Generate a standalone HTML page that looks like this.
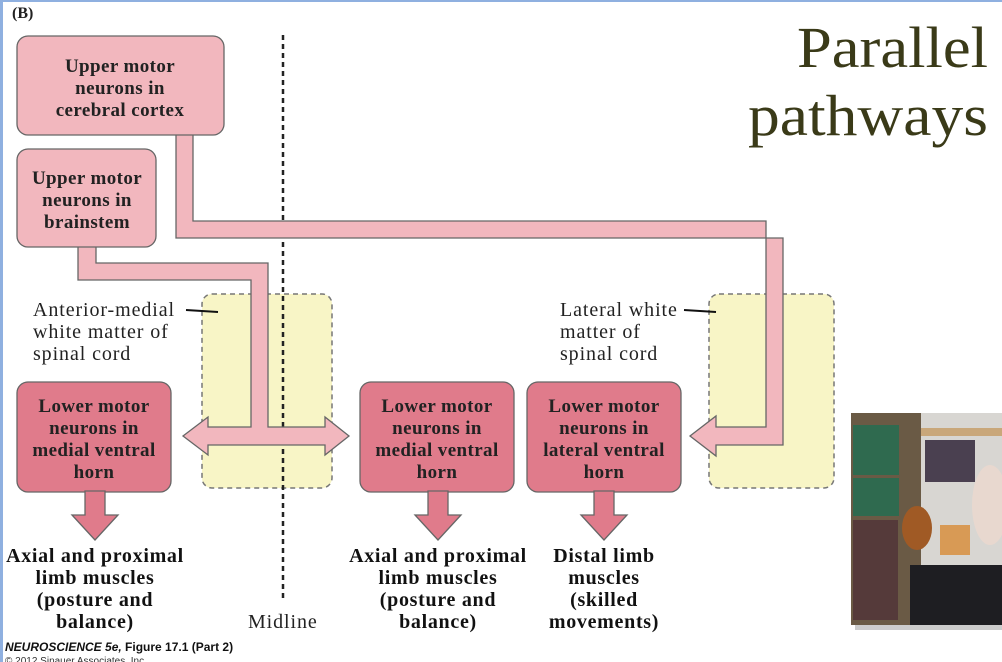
<!DOCTYPE html>
<html><head><meta charset="utf-8"><style>
html,body{margin:0;padding:0;background:#fff;}
body{width:1002px;height:662px;overflow:hidden;position:relative;}
svg{position:absolute;left:0;top:0;}
.t{font-family:"Liberation Serif",serif;font-weight:bold;font-size:19px;letter-spacing:0.4px;fill:#222;text-anchor:middle;}
.b{font-family:"Liberation Serif",serif;font-weight:bold;font-size:20px;letter-spacing:0.7px;fill:#111;text-anchor:middle;}
.n{font-family:"Liberation Serif",serif;font-size:20px;letter-spacing:0.9px;fill:#222;}
</style></head><body>
<svg width="1002" height="662" viewBox="0 0 1002 662">
<rect x="0" y="0" width="1002" height="662" fill="#fff"/>
<rect x="0" y="0" width="1002" height="2" fill="#8fb0e0"/>
<rect x="0" y="0" width="3" height="662" fill="#8fb0e0"/>
<text x="12" y="18" font-family="Liberation Serif,serif" font-weight="bold" font-size="16" fill="#222">(B)</text>
<text x="797" y="67" font-family="Liberation Serif,serif" font-size="58" fill="#3a3a18" textLength="191" lengthAdjust="spacingAndGlyphs">Parallel</text>
<text x="748" y="135" font-family="Liberation Serif,serif" font-size="58" fill="#3a3a18" textLength="240" lengthAdjust="spacingAndGlyphs">pathways</text>
<!-- yellow -->
<rect x="202" y="294" width="130" height="194" rx="10" fill="#f8f5c6" stroke="#777" stroke-dasharray="5,4" stroke-width="1.5"/>
<rect x="709" y="294" width="125" height="194" rx="10" fill="#f8f5c6" stroke="#777" stroke-dasharray="5,4" stroke-width="1.5"/>
<!-- midline -->
<line x1="283" y1="35" x2="283" y2="602" stroke="#222" stroke-width="2.5" stroke-dasharray="5,4"/>
<!-- cortex path -->
<path d="M176,134 L193,134 L193,221 L766,221 L766,427 L716,427 L716,416 L690,436 L716,456 L716,445 L783,445 L783,238 L176,238 Z" fill="#f2b7be" stroke="#666" stroke-width="1.3"/>
<!-- brainstem path -->
<path d="M78,246 L96,246 L96,263 L268,263 L268,427 L325,427 L325,417 L349,436 L325,455 L325,445 L208,445 L208,455 L183,436 L208,417 L208,427 L251,427 L251,280 L78,280 Z" fill="#f2b7be" stroke="#666" stroke-width="1.3"/>
<!-- upper boxes -->
<rect x="17" y="36" width="207" height="99" rx="11" fill="#f2b7be" stroke="#666" stroke-width="1.3"/>
<text class="t"><tspan x="120" y="72">Upper motor</tspan><tspan x="120" y="94">neurons in</tspan><tspan x="120" y="116">cerebral cortex</tspan></text>
<rect x="17" y="149" width="139" height="98" rx="11" fill="#f2b7be" stroke="#666" stroke-width="1.3"/>
<text class="t"><tspan x="87" y="184">Upper motor</tspan><tspan x="87" y="206">neurons in</tspan><tspan x="87" y="228">brainstem</tspan></text>
<!-- labels -->
<text class="n"><tspan x="33" y="316">Anterior-medial</tspan><tspan x="33" y="338">white matter of</tspan><tspan x="33" y="360">spinal cord</tspan></text>
<line x1="186" y1="310" x2="218" y2="312" stroke="#111" stroke-width="2"/>
<text class="n"><tspan x="560" y="316">Lateral white</tspan><tspan x="560" y="338">matter of</tspan><tspan x="560" y="360">spinal cord</tspan></text>
<line x1="684" y1="310" x2="716" y2="312" stroke="#111" stroke-width="2"/>
<!-- lower boxes -->
<g fill="#e07b8b" stroke="#666" stroke-width="1.3">
<rect x="17" y="382" width="154" height="110" rx="11"/>
<rect x="360" y="382" width="154" height="110" rx="11"/>
<rect x="527" y="382" width="154" height="110" rx="11"/>
<path d="M85,491 L105,491 L105,515 L118,515 L95,540 L72,515 L85,515 Z"/>
<path d="M428,491 L448,491 L448,515 L461,515 L438,540 L415,515 L428,515 Z"/>
<path d="M594,491 L614,491 L614,515 L627,515 L604,540 L581,515 L594,515 Z"/>
</g>
<text class="t"><tspan x="94" y="412">Lower motor</tspan><tspan x="94" y="434">neurons in</tspan><tspan x="94" y="456">medial ventral</tspan><tspan x="94" y="478">horn</tspan></text>
<text class="t"><tspan x="437" y="412">Lower motor</tspan><tspan x="437" y="434">neurons in</tspan><tspan x="437" y="456">medial ventral</tspan><tspan x="437" y="478">horn</tspan></text>
<text class="t"><tspan x="604" y="412">Lower motor</tspan><tspan x="604" y="434">neurons in</tspan><tspan x="604" y="456">lateral ventral</tspan><tspan x="604" y="478">horn</tspan></text>
<text class="b"><tspan x="95" y="562">Axial and proximal</tspan><tspan x="95" y="584">limb muscles</tspan><tspan x="95" y="606">(posture and</tspan><tspan x="95" y="628">balance)</tspan></text>
<text class="b"><tspan x="438" y="562">Axial and proximal</tspan><tspan x="438" y="584">limb muscles</tspan><tspan x="438" y="606">(posture and</tspan><tspan x="438" y="628">balance)</tspan></text>
<text class="b"><tspan x="604" y="562">Distal limb</tspan><tspan x="604" y="584">muscles</tspan><tspan x="604" y="606">(skilled</tspan><tspan x="604" y="628">movements)</tspan></text>
<text class="n" x="248" y="628">Midline</text>
<text x="5" y="651" font-family="Liberation Sans,sans-serif" font-weight="bold" font-size="12" fill="#111"><tspan font-style="italic">NEUROSCIENCE 5e,</tspan> Figure 17.1 (Part 2)</text>
<text x="5" y="664" font-family="Liberation Sans,sans-serif" font-size="10" fill="#333">© 2012 Sinauer Associates, Inc.</text>
<!-- video -->
<rect x="855" y="418" width="150" height="212" fill="#999" opacity="0.5"/>
<rect x="851" y="413" width="151" height="212" fill="#d8d6d2"/>
<rect x="851" y="413" width="70" height="212" fill="#6a5a45"/>
<rect x="853" y="425" width="46" height="50" fill="#2f6a4f"/>
<rect x="853" y="478" width="46" height="38" fill="#2f6a4f"/>
<rect x="853" y="520" width="45" height="100" fill="#553a3a"/>
<rect x="921" y="428" width="81" height="8" fill="#c9a77a"/>
<rect x="925" y="440" width="50" height="42" fill="#4a4050"/>
<ellipse cx="917" cy="528" rx="15" ry="22" fill="#a05a25"/>
<rect x="940" y="525" width="30" height="30" fill="#d89a55"/>
<rect x="910" y="565" width="92" height="60" fill="#1e1e22"/>
<ellipse cx="990" cy="505" rx="18" ry="40" fill="#e8d8cf"/>
</svg>
</body></html>
